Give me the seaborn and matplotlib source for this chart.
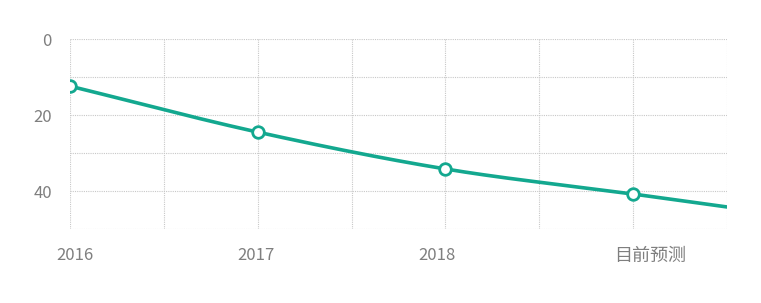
import numpy as np
import pandas as pd
import seaborn as sns
import matplotlib
matplotlib.use("Agg")
import matplotlib.pyplot as plt
from matplotlib.ticker import MultipleLocator

# ---- data ----
categories = ['2016', '2017', '2018', '目前预测']
values = [12.4, 24.5, 34.2, 40.8]
trend_end_value = 44.2          # where the smoothed line leaves the plot (half a period on)
y_ticks = [0, 20, 40]

# ---- style ----
sns.set_theme(style="white")
plt.rcParams['font.family'] = ['Noto Sans CJK SC', 'DejaVu Sans']
line_color = '#13A88F'
text_color = '#7f7f7f'
grid_color = '#c8c8c8'

fig = plt.figure(figsize=(7.61, 3.03), dpi=100)
ax = fig.add_axes([70/761, 1-229/303, (727-70)/761, (229-39)/303])

xpos = np.arange(len(categories), dtype=float)
xs = np.append(xpos, xpos[-1] + 0.5)
ys = np.append(np.array(values), trend_end_value)

# Catmull-Rom smoothing through the points (rendering only)
def catmull(px, py, n=40):
    px = np.concatenate([[2*px[0]-px[1]], px, [2*px[-1]-px[-2]]])
    py = np.concatenate([[2*py[0]-py[1]], py, [2*py[-1]-py[-2]]])
    ox, oy = [], []
    t = np.linspace(0, 1, n)
    h00 = 2*t**3 - 3*t**2 + 1
    h10 = t**3 - 2*t**2 + t
    h01 = -2*t**3 + 3*t**2
    h11 = t**3 - t**2
    for i in range(1, len(px)-2):
        p0x, p1x, p2x, p3x = px[i-1:i+3]
        p0y, p1y, p2y, p3y = py[i-1:i+3]
        seg = p2x - p1x
        k1 = seg / (p2x - p0x)
        k2 = seg / (p3x - p1x)
        m1x, m1y = (p2x - p0x)*k1, (p2y - p0y)*k1
        m2x, m2y = (p3x - p1x)*k2, (p3y - p1y)*k2
        ox.append(h00*p1x + h10*m1x + h01*p2x + h11*m2x)
        oy.append(h00*p1y + h10*m1y + h01*p2y + h11*m2y)
    return np.concatenate(ox), np.concatenate(oy)

cx, cy = catmull(xs, ys)
curve = pd.DataFrame({'x': cx, 'y': cy})
pts = pd.DataFrame({'x': xpos, 'y': values})

sns.lineplot(data=curve, x='x', y='y', sort=False, estimator=None,
             color=line_color, linewidth=2.6, ax=ax, zorder=3)
sns.scatterplot(data=pts, x='x', y='y', s=70, facecolor='white',
                edgecolor=line_color, linewidth=2.0, ax=ax, zorder=4)

ax.set_xlim(0, 3.5)
ax.set_ylim(50, 0)

ax.xaxis.set_minor_locator(MultipleLocator(0.5))
label_pos = [0.024, 0.989, 1.955, 3.09]
ax.set_xticks(label_pos)
ax.set_xticklabels(categories)
ax.set_yticks(y_ticks)
ax.set_yticklabels([str(v) for v in y_ticks])
ax.yaxis.set_minor_locator(MultipleLocator(10))

ax.grid(False)
gkw = dict(color=grid_color, linestyle=(0, (1, 1)), linewidth=0.8)
ax.grid(which='minor', axis='x', **gkw)
ax.grid(which='minor', axis='y', **gkw)
ax.grid(which='major', axis='y', **gkw)

for s in ax.spines.values():
    s.set_visible(False)

ax.tick_params(axis='both', which='both', length=0)
ax.tick_params(axis='x', pad=13, labelsize=12, labelcolor=text_color)
ax.tick_params(axis='y', pad=13, labelsize=12, labelcolor=text_color)
for lbl in ax.get_xticklabels():
    if lbl.get_text() == '目前预测':
        lbl.set_fontsize(13)
ax.set_xlabel('')
ax.set_ylabel('')

fig.savefig('out.png', dpi=100)
